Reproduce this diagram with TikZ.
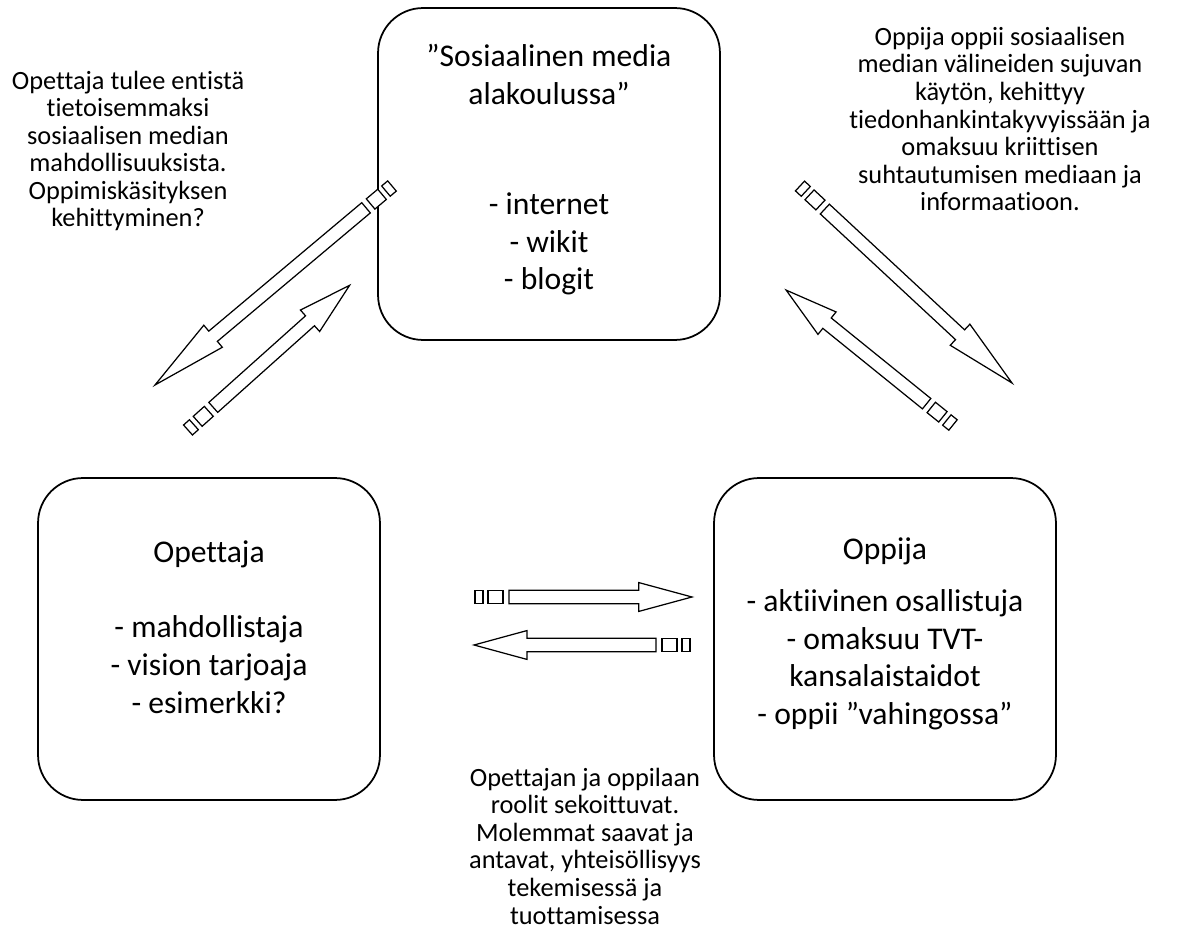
\documentclass[tikz,border=0pt]{standalone}
\usepackage{fontspec}
\setmainfont{Carlito}[Ligatures=NoCommon]
\usetikzlibrary{calc}

\tikzset{
	box/.style={draw, line width=1pt, rounded corners=0.9cm, minimum width=6.84cm},
	boxtext/.style={align=center, font=\fontsize{18}{21.5}\selectfont},
	sidetext/.style={align=center, font=\fontsize{15}{15.7}\selectfont},
	arrowline/.style={draw, line width=0.7pt, fill=white}
}

% block arrow with two small squares at its tail
\newcommand\stripedarrow[2]{%
	\path let \p1=($(#2)-(#1)$) in \pgfextra{%
		\pgfmathsetmacro\arrlen{veclen(\x1,\y1)}%
		\pgfmathsetmacro\arrang{atan2(\y1,\x1)}%
		\xdef\arrlen{\arrlen}\xdef\arrang{\arrang}};
	\begin{scope}[shift={(#1)}, rotate=\arrang, x=1pt, y=1pt]
		\pgfmathsetmacro\headpos{0.755*\arrlen}
		\draw[arrowline] (0,-3.8) rectangle (4.5,3.8);
		\draw[arrowline] (7.4,-3.8) rectangle (15.9,3.8);
		\draw[arrowline] (19.3,-3.8) -- (\headpos,-3.8) -- (\headpos,-8.2) -- (\arrlen,0)
			-- (\headpos,8.2) -- (\headpos,3.8) -- (19.3,3.8) -- cycle;
	\end{scope}}

\begin{document}
\begin{tikzpicture}[x=0.02cm, y=-0.02cm]
	\useasboundingbox (0,0) rectangle (1198,932);
	
	% the three boxes
	\node[box, minimum height=6.64cm] (medium) at (549,174) {};
	\node[box, minimum height=6.44cm] (teacher) at (209,639) {};
	\node[box, minimum height=6.44cm] (learner) at (885,639) {};
	
	\node[boxtext] (mediumtext) at (549,170) {”Sosiaalinen media\\alakoulussa”\\[41pt]- internet\\- wikit\\- blogit};
	\node[boxtext] (teachertext) at (209,627) {Opettaja\\[21.5pt]- mahdollistaja\\- vision tarjoaja\\- esimerkki?};
	\node[boxtext] (learnertext) at (885,634) {Oppija\\[8pt]- aktiivinen osallistuja\\- omaksuu TVT-\\kansalaistaidot\\- oppii ”vahingossa”};
	
	% side notes
	\node[sidetext] (teachernote) at (128,151) {Opettaja tulee entistä\\tietoisemmaksi\\sosiaalisen median\\mahdollisuuksista.\\Oppimiskäsityksen\\kehittyminen?};
	\node[sidetext] (learnernote) at (1000,119) {Oppija oppii sosiaalisen\\median välineiden sujuvan\\käytön, kehittyy\\tiedonhankintakyvyissään ja\\omaksuu kriittisen\\suhtautumisen mediaan ja\\informaatioon.};
	\node[sidetext] (bothnote) at (585,846) {Opettajan ja oppilaan\\roolit sekoittuvat.\\Molemmat saavat ja\\antavat, yhteisöllisyys\\tekemisessä ja\\tuottamisessa};
	
	% arrow ends
	\coordinate (down1) at (392,186);  \coordinate (down2) at (155,385);
	\coordinate (up1) at (188,430);    \coordinate (up2) at (350,285);
	\coordinate (right1) at (800,186); \coordinate (right2) at (1012,383);
	\coordinate (left1) at (953,425);  \coordinate (left2) at (786,290);
	\coordinate (to1) at (475,597);    \coordinate (to2) at (692,597);
	\coordinate (back1) at (690,645);  \coordinate (back2) at (474,645);
	
	\stripedarrow{down1}{down2}
	\stripedarrow{up1}{up2}
	\stripedarrow{right1}{right2}
	\stripedarrow{left1}{left2}
	\stripedarrow{to1}{to2}
	\stripedarrow{back1}{back2}
	
\end{tikzpicture}
\end{document}
